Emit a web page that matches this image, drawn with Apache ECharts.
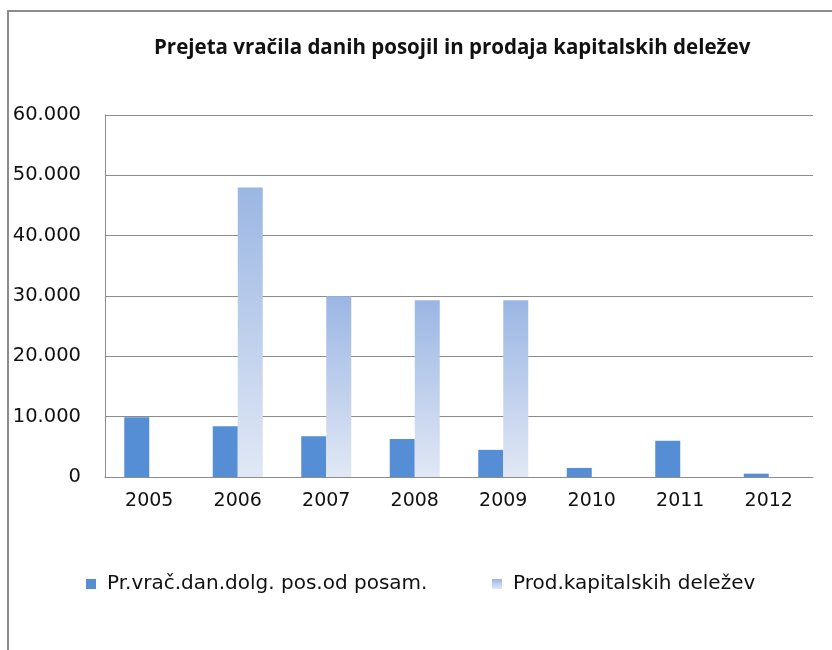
<!DOCTYPE html>
<html>
<head>
<meta charset="utf-8">
<script src="https://cdn.jsdelivr.net/npm/echarts@6/dist/echarts.min.js"></script>
<style>
  html, body { margin: 0; padding: 0; background: #fff; }
  #chart { width: 832px; height: 650px; }
</style>
</head>
<body>
<div id="chart"></div>
<script>
// podatki (v tisočih EUR)
var years = ['2005', '2006', '2007', '2008', '2009', '2010', '2011', '2012'];
var loanRepayments = [9900, 8400, 6750, 6300, 4500, 1500, 6000, 550];
var equitySales = [0, 48000, 29950, 29300, 29300, 0, 0, 0];
var seriesNames = ['Pr.vrač.dan.dolg. pos.od posam.', 'Prod.kapitalskih deležev'];
var titleText = 'Prejeta vračila danih posojil in prodaja kapitalskih deležev';

var lightGradient = new echarts.graphic.LinearGradient(0, 0, 0, 1, [
  { offset: 0, color: '#9bb6e3' },
  { offset: 1, color: '#e1e8f5' }
]);

function fmt(v) {
  // 60000 -> 60.000
  return String(v).replace(/\B(?=(\d{3})+(?!\d))/g, '.');
}

var chart = echarts.init(document.getElementById('chart'));

var option = {
  animation: false,
  title: {
    text: titleText,
    left: 149,
    top: 33,
    textStyle: { fontFamily: 'Open Sans', fontWeight: 'bold', fontSize: 20.5, color: '#111' }
  },
  graphic: [{
    type: 'rect',
    shape: { x: 8, y: 11, width: 900, height: 800 },
    style: { fill: 'none', stroke: '#8c8c8c', lineWidth: 2 },
    silent: true
  }],
  legend: [{
    left: 81,
    top: 569,
    icon: 'rect',
    itemWidth: 10,
    itemHeight: 10,
    data: [seriesNames[0]],
    textStyle: { fontFamily: 'DejaVu Sans', fontSize: 20, color: '#111', padding: [0, 0, 0, 6] }
  }, {
    left: 487,
    top: 569,
    icon: 'rect',
    itemWidth: 10,
    itemHeight: 10,
    data: [seriesNames[1]],
    textStyle: { fontFamily: 'DejaVu Sans', fontSize: 20, color: '#111', padding: [0, 0, 0, 6] }
  }],
  grid: { left: 105, right: 19, top: 115, bottom: 173, containLabel: false },
  xAxis: {
    type: 'category',
    data: years,
    axisLine: { lineStyle: { color: '#8c8c8c', width: 1 } },
    axisTick: { show: false },
    axisLabel: { fontFamily: 'DejaVu Sans', fontSize: 19, color: '#111', margin: 15 }
  },
  yAxis: {
    type: 'value',
    min: 0,
    max: 60000,
    interval: 10000,
    axisLine: { show: true, lineStyle: { color: '#8c8c8c', width: 1 } },
    axisTick: { show: false },
    splitLine: { lineStyle: { color: '#8c8c8c', width: 1 } },
    axisLabel: { fontFamily: 'DejaVu Sans', fontSize: 19.5, color: '#111', margin: 24, formatter: fmt }
  },
  series: [{
    name: seriesNames[0],
    type: 'bar',
    data: loanRepayments,
    barWidth: 25,
    barGap: '0%',
    itemStyle: { color: '#558ed5' }
  }, {
    name: seriesNames[1],
    type: 'bar',
    data: equitySales,
    barWidth: 25,
    itemStyle: { color: lightGradient }
  }]
};

chart.setOption(option);
</script>
</body>
</html>
